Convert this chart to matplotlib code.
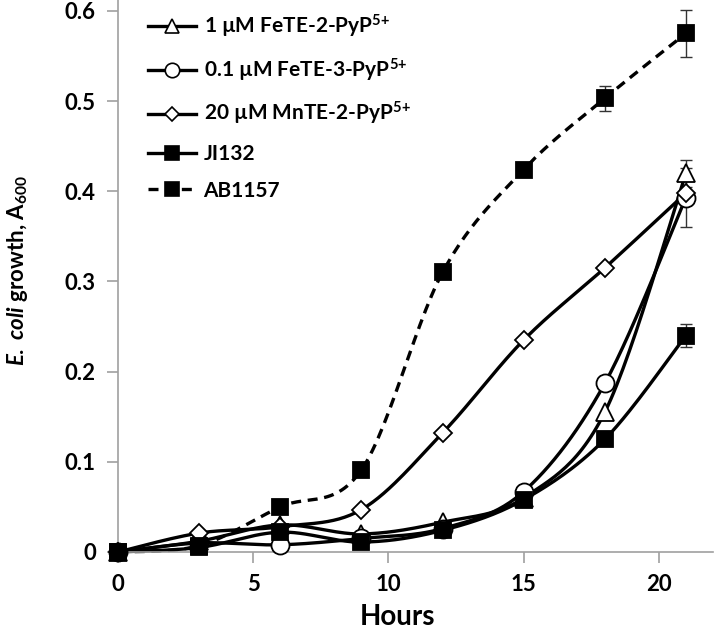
import matplotlib
matplotlib.use('Agg')
import matplotlib.pyplot as plt
import numpy as np

# Data section
hours = [0, 3, 6, 9, 12, 15, 18, 21]

fete2 = [0, 0.012, 0.030, 0.020, 0.033, 0.060, 0.155, 0.420]
fete3 = [0, 0.010, 0.008, 0.015, 0.026, 0.067, 0.187, 0.393]
mnte2 = [0, 0.021, 0.028, 0.047, 0.132, 0.235, 0.315, 0.398]
ji132 = [0, 0.005, 0.022, 0.011, 0.024, 0.058, 0.125, 0.240]
ab1157 = [0, 0.007, 0.050, 0.091, 0.310, 0.424, 0.503, 0.575]

# error bars (None = not shown)
fete2_err = [None, None, None, None, None, None, None, 0.015]
fete3_err = [None, None, None, None, None, None, None, 0.033]
mnte2_err = [None, None, None, None, None, None, None, None]
ji132_err = [None, None, None, None, None, None, None, 0.013]
ab1157_err = [None, None, None, None, None, None, 0.014, 0.026]

labels = [r'1 µM FeTE-2-PyP$^{\mathbf{5{+}}}$',
          r'0.1 µM FeTE-3-PyP$^{\mathbf{5{+}}}$',
          r'20 µM MnTE-2-PyP$^{\mathbf{5{+}}}$',
          'JI132', 'AB1157']

plt.rcParams['font.family'] = ['Lato', 'DejaVu Sans']
plt.rcParams['font.weight'] = 'bold'
plt.rcParams['mathtext.fontset'] = 'custom'
plt.rcParams['mathtext.rm'] = 'Lato:bold'
plt.rcParams['mathtext.bf'] = 'Lato:bold'
plt.rcParams['mathtext.it'] = 'Lato:italic:bold'

XMAX, YMAX = 22, 0.612
fig = plt.figure(figsize=(7.15, 6.31), dpi=100)
ax = fig.add_axes([118/715, 79/631, 595/715, 552/631])
ax.set_xlim(0, XMAX)
ax.set_ylim(0, YMAX)

# excel-like smoothed line (cardinal spline in screen space)
sx = 595 / XMAX
sy = 552 / YMAX


def smooth(x, y, n=30):
    p = np.column_stack([np.array(x) * sx, np.array(y) * sy])
    p = np.vstack([p[0], p, p[-1]])
    out = []
    for i in range(1, len(p) - 2):
        p0, p1, p2, p3 = p[i-1], p[i], p[i+1], p[i+2]
        c1 = p1 + (p2 - p0) / 6
        c2 = p2 - (p3 - p1) / 6
        t = np.linspace(0, 1, n)[:, None]
        seg = (1-t)**3*p1 + 3*(1-t)**2*t*c1 + 3*(1-t)*t**2*c2 + t**3*p2
        out.append(seg)
    out = np.vstack(out)
    return out[:, 0] / sx, out[:, 1] / sy


series = [
    (fete2, fete2_err, '^', 'white', '-', 13),
    (fete3, fete3_err, 'o', 'white', '-', 13),
    (mnte2, mnte2_err, 'D', 'white', '-', 9),
    (ji132, ji132_err, 's', 'black', '-', 12),
    (ab1157, ab1157_err, 's', 'black', '--', 12),
]

handles = []
for (vals, err, mk, fc, ls, ms), lab in zip(series, labels):
    xs, ys = smooth(hours, vals)
    ax.plot(xs, ys, color='black', lw=2.4, ls=ls, dashes=(3, 2) if ls == '--' else (None, None),
            zorder=2, clip_on=False)
    ex = [h for h, e in zip(hours, err) if e is not None]
    ey = [v for v, e in zip(vals, err) if e is not None]
    ee = [e for e in err if e is not None]
    if ex:
        ax.errorbar(ex, ey, yerr=ee, fmt='none', ecolor='#333333', elinewidth=1,
                    capsize=4, capthick=1, zorder=1)
    ax.plot(hours, vals, ls='none', marker=mk, ms=ms, mfc=fc, mec='black', mew=1.3,
            zorder=3, clip_on=False)
    h, = ax.plot([], [], color='black', lw=2.4, ls=ls, marker=mk, ms=ms * 0.8,
                 mfc=fc, mec='black', mew=1.2)
    if ls == '--':
        h.set_dashes((3, 2))
    handles.append(h)

leg = ax.legend(handles, labels, loc='upper left', bbox_to_anchor=(0.03, 1.0),
                frameon=False, fontsize=15, handlelength=2.3, labelspacing=0.8,
                handletextpad=0.35, borderaxespad=0.2)

for s in ['top', 'right']:
    ax.spines[s].set_visible(False)
for s in ['left', 'bottom']:
    ax.spines[s].set_color('#a0a0a0')
    ax.spines[s].set_linewidth(1.2)

ax.set_xticks([0, 5, 10, 15, 20])
ax.set_yticks([0, 0.1, 0.2, 0.3, 0.4, 0.5, 0.6])
ax.set_yticklabels(['0', '0.1', '0.2', '0.3', '0.4', '0.5', '0.6'])
ax.tick_params(axis='both', direction='out', length=8, width=1.2, color='#a0a0a0',
               labelsize=16, pad=8)

ax.set_xlabel('Hours', fontsize=20, fontweight='bold')
ax.xaxis.set_label_coords((397 - 118) / 595, -0.095)
ax.set_ylabel(r'$\mathit{E.\ coli}$ growth, A$_{\mathbf{600}}$', fontsize=16, fontweight='bold')
ax.yaxis.set_label_coords(-0.148, 0.51)

fig.savefig('out.png', dpi=100)
